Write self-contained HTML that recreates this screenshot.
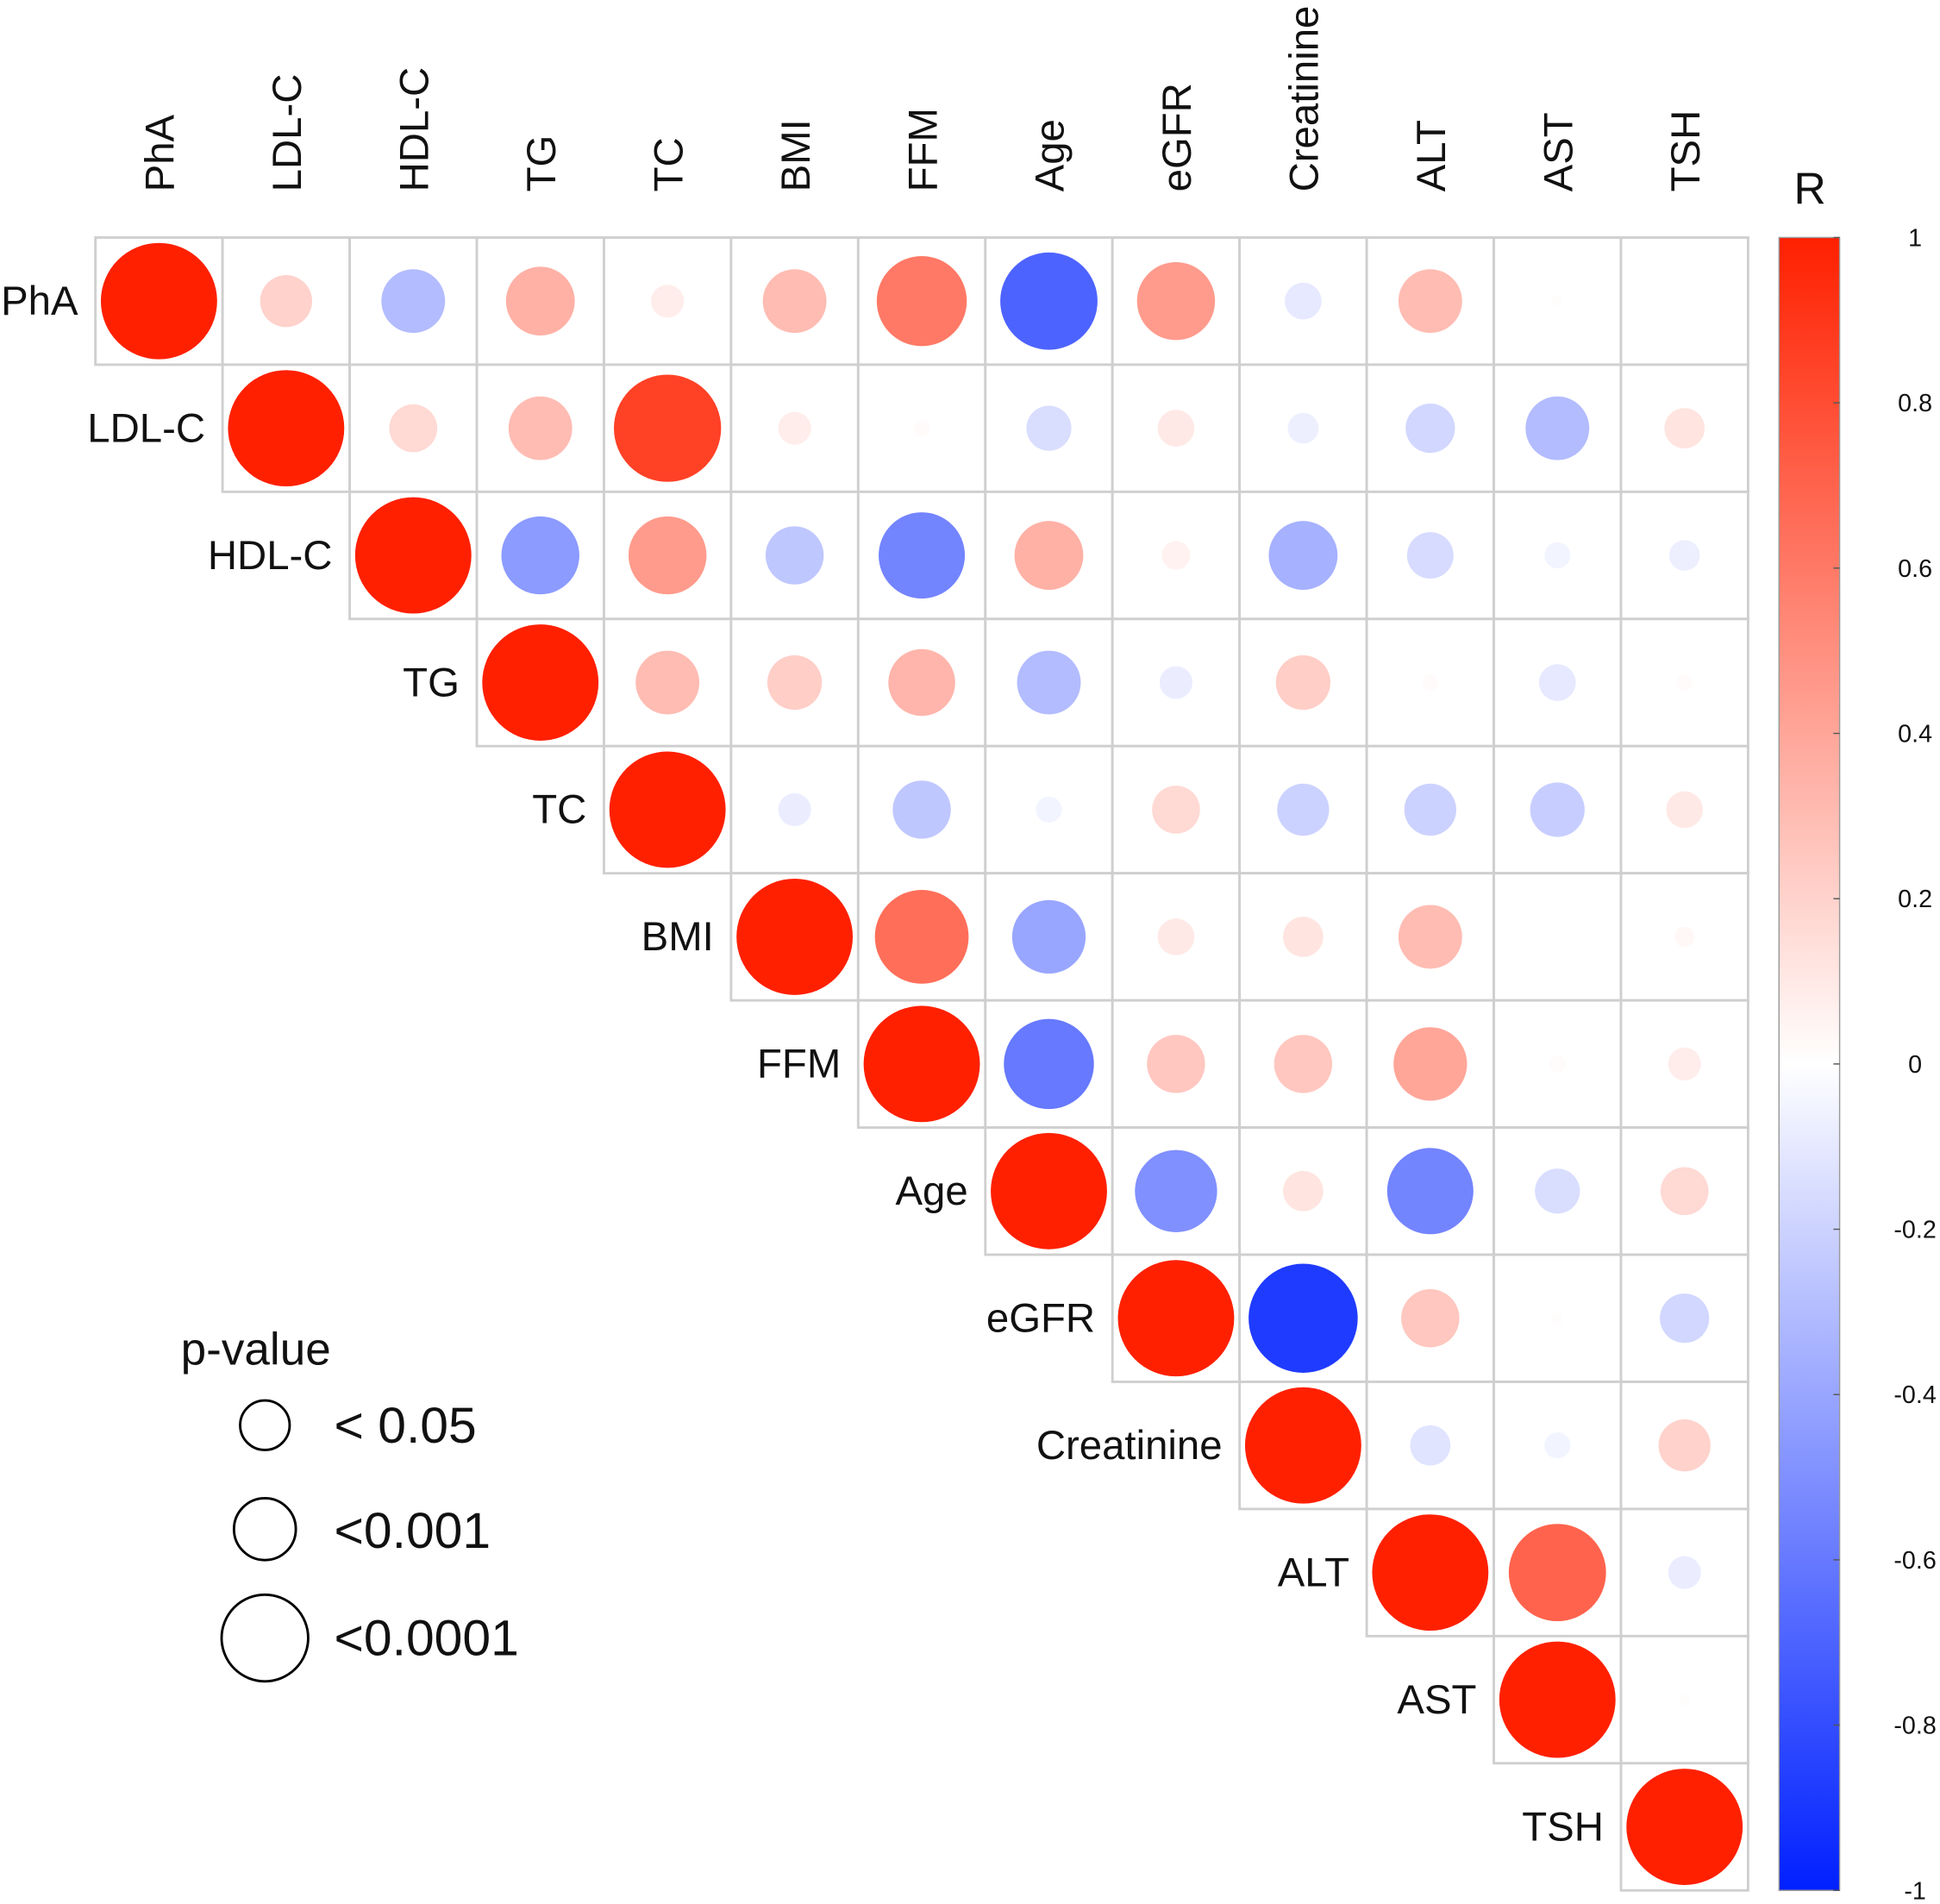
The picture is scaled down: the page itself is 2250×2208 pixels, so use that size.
<!DOCTYPE html>
<html><head><meta charset="utf-8"><style>
html,body{margin:0;padding:0;background:#fff}
svg{display:block}
text{font-family:"Liberation Sans",sans-serif;fill:#111}
</style></head><body>
<svg id="chart" width="2250" height="2208" viewBox="0 0 1568 1539" xmlns="http://www.w3.org/2000/svg">
<defs>
<linearGradient id="cbar" x1="0" y1="0" x2="0" y2="1">
<stop offset="0" stop-color="#ff2000"/><stop offset="0.5" stop-color="#ffffff"/><stop offset="1" stop-color="#0020ff"/>
</linearGradient>
</defs>
<g id="cells"></g>
<g id="labels"></g>
<rect x="1438" y="192" width="49" height="1336" fill="url(#cbar)" stroke="#999" stroke-width="1"/>
<text x="1463" y="165" font-size="36" text-anchor="middle">R</text>
<g id="cbticks"></g>
<g>
<text x="146" y="1103" font-size="37" font-weight="500">p-value</text>
<circle cx="214" cy="1152" r="20" fill="none" stroke="#000" stroke-width="2"/>
<text x="270" y="1166" font-size="41">&lt; 0.05</text>
<circle cx="214" cy="1236" r="25" fill="none" stroke="#000" stroke-width="2"/>
<text x="270" y="1251" font-size="41">&lt;0.001</text>
<circle cx="214" cy="1324" r="35" fill="none" stroke="#000" stroke-width="2"/>
<text x="270" y="1338" font-size="41">&lt;0.0001</text>
</g>
</svg>
<script>
const variables = ["PhA","LDL-C","HDL-C","TG","TC","BMI","FFM","Age","eGFR","Creatinine","ALT","AST","TSH"];
const rowPhA = [0.2,-0.3,0.35,0.08,0.3,0.6,-0.7,0.45,-0.1,0.3,0.01,0];
const rowLDL = [0.17,0.3,0.85,0.08,0.02,-0.15,0.1,-0.07,-0.18,-0.3,0.12];
const rowHDL = [-0.45,0.45,-0.25,-0.55,0.35,0.06,-0.35,-0.16,-0.05,-0.07];
const rowTG = [0.3,0.22,0.33,-0.3,-0.08,0.22,0.02,-0.1,0.02];
const rowTC = [-0.08,-0.25,-0.05,0.17,-0.2,-0.2,-0.22,0.1];
const rowBMI = [0.65,-0.4,0.1,0.12,0.3,0,0.03];
const rowFFM = [-0.6,0.25,0.25,0.4,0.02,0.08];
const rowAge = [-0.5,0.12,-0.55,-0.15,0.17];
const rowEGFR = [-0.88,0.25,0.01,-0.18];
const rowCreat = [-0.12,-0.05,0.2];
const rowALT = [0.7,-0.08];
const rowAST = [0.01];
const rowTSH = [];
const upperRows = [rowPhA,rowLDL,rowHDL,rowTG,rowTC,rowBMI,rowFFM,rowAge,rowEGFR,rowCreat,rowALT,rowAST,rowTSH];
const cbTicks = [1,0.8,0.6,0.4,0.2,0,-0.2,-0.4,-0.6,-0.8,-1];

const NS="http://www.w3.org/2000/svg";
const x0=77,y0=192,cw=102.77,maxR=47;
const cx=j=>x0+cw*(j+0.5), cy=i=>y0+cw*(i+0.5);
const cbY=v=>192+(1-v)/2*1336;
function color(r){
  const t=Math.min(1,Math.abs(r));
  const end=r>=0?[255,32,0]:[0,32,255];
  const c=end.map(e=>Math.round(255+(e-255)*t));
  return `rgb(${c[0]},${c[1]},${c[2]})`;
}
function el(tag,attrs,parent){const e=document.createElementNS(NS,tag);for(const k in attrs)e.setAttribute(k,attrs[k]);parent.appendChild(e);return e;}
const cells=document.getElementById('cells'),labels=document.getElementById('labels'),cbt=document.getElementById('cbticks');
const n=variables.length;
for(let i=0;i<n;i++){
  for(let j=i;j<n;j++){
    const r=j===i?1:upperRows[i][j-i-1];
    const rc=el('rect',{x:x0+cw*j,y:y0+cw*i,width:cw,height:cw,fill:'#fff',stroke:'#cfcfcf','stroke-width':2},cells);
    
    
    const c=el('circle',{cx:cx(j),cy:cy(i),r:maxR*Math.sqrt(Math.abs(r)),fill:color(r)},cells);
    
    
  }
  const t=el('text',{x:x0+cw*i-14,y:cy(i)+11,'font-size':33,'text-anchor':'end'},labels);
  t.textContent=variables[i];
  
  
  const ct=el('text',{transform:`translate(${cx(i)+12},155) rotate(-90)`,'font-size':33},labels);
  ct.textContent=variables[i];
  
  
}
cbTicks.forEach(v=>{
  const y=cbY(v);
  el('line',{x1:1482,x2:1487,y1:y,y2:y,stroke:'#555','stroke-width':1},cbt);
  const t=el('text',{x:1548,y:y+7,'font-size':20,'text-anchor':'middle'},cbt);
  t.textContent=String(v);
  
  
});
</script>
</body></html>
